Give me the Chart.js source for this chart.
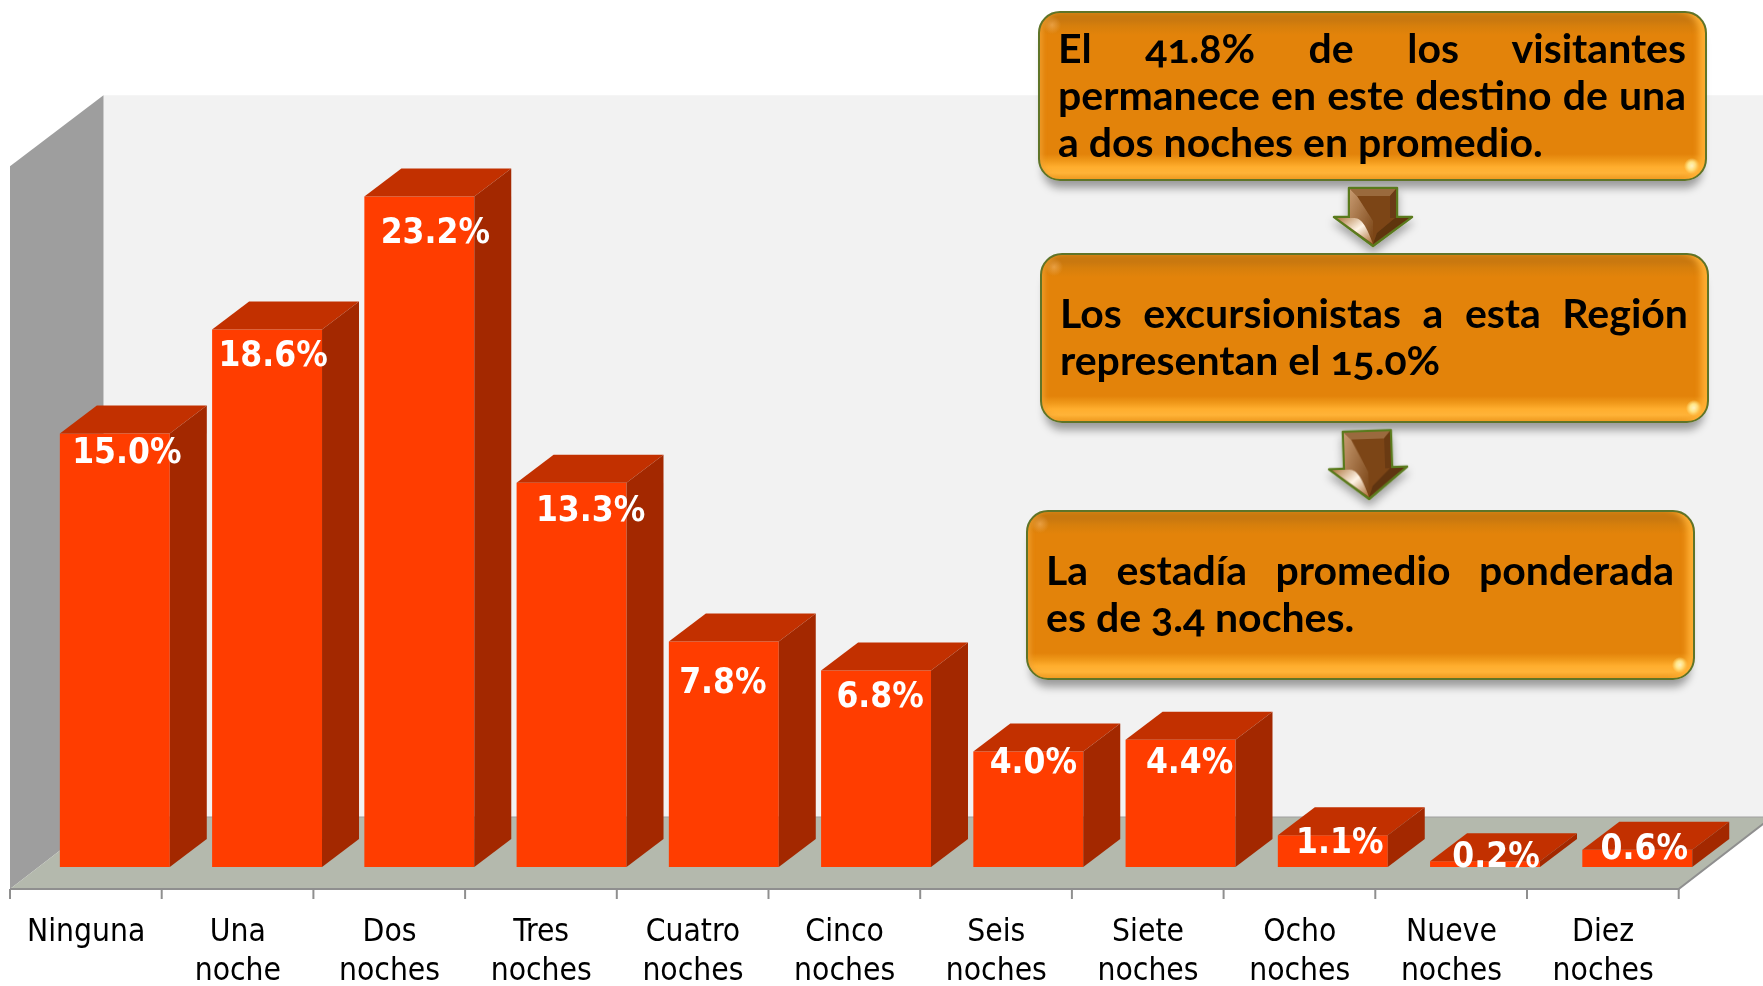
<!DOCTYPE html>
<html lang="es"><head><meta charset="utf-8">
<script src="https://cdn.jsdelivr.net/npm/chart.js@4"></script>
<style>
html,body{margin:0;padding:0;background:#fff;width:1763px;height:986px;overflow:hidden}
#wrap{position:relative;width:1763px;height:986px}
canvas{position:absolute;left:0;top:0}
.box{position:absolute;width:669px;height:170px;box-sizing:border-box;border:2.5px solid #5f7428;border-radius:22px;
 background:
  radial-gradient(circle 8px at calc(100% - 13px) calc(100% - 13px),#fff6c8 0,#ffe78a 50%,rgba(255,200,70,0) 100%),
  radial-gradient(circle 9px at 12px 12px,rgba(245,180,100,.6) 0,rgba(255,190,90,0) 100%),
  linear-gradient(180deg,#c9780f 0,#c9780f 7px,#d67f0c 13px,#e3830a 22px,#e3830a 141px,#f0991a 148px,#ffae2e 154px,#ffb338 160px,#ee9a20 100%);
 box-shadow:0 12px 9px -5px rgba(0,0,0,.36), inset -9px 0 6px -3px rgba(255,176,52,.95), inset 6px 0 4px -3px rgba(240,160,50,.7);
 font:700 41px/47px Lato,sans-serif;color:#000;font-feature-settings:"onum" 1;padding:0 19px 4px 18px;display:flex;flex-direction:column;justify-content:center}
.box span{display:block;text-align:left}
.box span.j{text-align:justify;text-align-last:justify}
svg.arr{position:absolute;overflow:visible}
</style></head><body>
<div id="wrap">
<canvas id="c" width="1763" height="986"></canvas>
<div class="box" style="left:1038px;top:11px"><span class="j">El 41.8% de los visitantes</span><span class="j">permanece en este destino de una</span><span>a dos noches en promedio.</span></div>
<svg class="arr" style="left:1333px;top:187px" width="80" height="60" viewBox="0 0 80 60"><defs>
<filter id="s" x="-30%" y="-30%" width="160%" height="170%"><feDropShadow dx="0" dy="6" stdDeviation="4" flood-color="#000" flood-opacity=".32"/></filter>
<linearGradient id="hl" x1="0" y1="0" x2="1" y2="1"><stop offset="0" stop-color="#b07a45"/><stop offset=".5" stop-color="#fff4e6"/><stop offset="1" stop-color="#a8682f"/></linearGradient>
<linearGradient id="lf" x1="0" y1="0" x2="1" y2="1"><stop offset="0" stop-color="#c79a70"/><stop offset="1" stop-color="#7b4516"/></linearGradient>
<g id="a1"><path d="M16 1H64V30H79L40 59L1 30H16Z" fill="#7b4516" stroke="#5a7a1e" stroke-width="2.5" stroke-linejoin="round"/>
<path d="M17 2H63L57 9H24Z" fill="#9a6a3e"/><path d="M17 2L24 9L40 34V52L24 32H17Z" fill="url(#lf)"/><path d="M63 2L57 9V31L63 31Z" fill="#6a3a12"/>
<path d="M4 31H20C28 31 32 36 40 57Z" fill="url(#hl)"/><path d="M76 31L40 57L44 46L62 31Z" fill="#5f3410"/></g>
</defs><use href="#a1" filter="url(#s)"/></svg>
<div class="box" style="left:1040px;top:253px"><span class="j">Los excursionistas a esta Región</span><span>representan el 15.0%</span></div>
<svg class="arr" style="left:1328px;top:430px;transform:rotate(-2deg)" width="80" height="70" viewBox="0 0 80 70">
<path d="M16 1H64V38H79L40 69L1 38H16Z" fill="#7b4516" stroke="#5a7a1e" stroke-width="2.5" stroke-linejoin="round" filter="url(#s)"/>
<path d="M17 2H63L57 9H24Z" fill="#9a6a3e"/><path d="M17 2L24 9L40 42V62L24 40H17Z" fill="url(#lf)"/><path d="M63 2L57 9V39L63 39Z" fill="#6a3a12"/>
<path d="M4 39H20C28 39 32 44 40 67Z" fill="url(#hl)"/><path d="M76 39L40 67L44 56L62 39Z" fill="#5f3410"/></svg>
<div class="box" style="left:1026px;top:510px"><span class="j">La estadía promedio ponderada</span><span>es de 3.4 noches.</span></div>
</div>
<script>
const categories = [['Ninguna'],['Una','noche'],['Dos','noches'],['Tres','noches'],['Cuatro','noches'],['Cinco','noches'],['Seis','noches'],['Siete','noches'],['Ocho','noches'],['Nueve','noches'],['Diez','noches']];
const values = [15.0,18.6,23.2,13.3,7.8,6.8,4.0,4.4,1.1,0.2,0.6];
const valueLabels = ['15.0%','18.6%','23.2%','13.3%','7.8%','6.8%','4.0%','4.4%','1.1%','0.2%','0.6%'];
const labelNudgeX = [12,6,16,19,-1,4,5,9,7,11,7];
const labelNudgeY = [20,27,37,29,42,27,13,24,9,-3,0];

const DEPTH_X = 37, DEPTH_Y = 28;      // bar depth
const AXIS_SHIFT_X = 28.7, AXIS_SHIFT_Y = 22; // front axis vs. bar plane
const AXIS_STEP = 151.7;               // front axis has a slightly smaller step than the bar plane
const FLOOR_BACK = 50;

function poly(ctx, pts, fill){ctx.beginPath();pts.forEach((p,i)=>i?ctx.lineTo(p[0],p[1]):ctx.moveTo(p[0],p[1]));ctx.closePath();ctx.fillStyle=fill;ctx.fill();}

const scene = {
  id:'scene',
  beforeDraw(chart){
    const x = chart.scales.x;
    const drift = x.getPixelForValue(1)-x.getPixelForValue(0)-AXIS_STEP;
    x.getLabelItems(chart.chartArea).forEach((it,i)=>{ it.options.translation[0] -= i*drift; });
  },
  beforeDatasetsDraw(chart){
    const {ctx,scales:{x,y}} = chart;
    const y0 = y.getPixelForValue(0);
    const step = x.getPixelForValue(1)-x.getPixelForValue(0);
    const fl = x.getPixelForValue(0)-step/2-AXIS_SHIFT_X, fr = fl+AXIS_STEP*categories.length;
    const fy = y0+AXIS_SHIFT_Y, by = y0-FLOOR_BACK;
    const bl = fl+93.5, br = fr+93.5;
    const wallTop = y.getPixelForValue(26.7), wallFrontTop = y.getPixelForValue(24.25);
    ctx.save();
    poly(ctx,[[bl,wallTop],[chart.width,wallTop],[chart.width,by],[bl,by]],'#f2f2f2');
    poly(ctx,[[fl,wallFrontTop],[bl,wallTop],[bl,by],[fl,fy]],'#9e9e9e');
    poly(ctx,[[fl,fy],[bl,by],[br,by],[fr,fy]],'#b4b9ad');
    ctx.strokeStyle='#8f8f8f';ctx.lineWidth=2;
    ctx.beginPath();ctx.moveTo(fl,fy);ctx.lineTo(fr,fy);ctx.lineTo(br,by);ctx.stroke();
    ctx.strokeStyle='#a0a0a0';ctx.lineWidth=1;ctx.beginPath();ctx.moveTo(bl,by);ctx.lineTo(br,by);ctx.stroke();
    ctx.strokeStyle='#8f8f8f';ctx.lineWidth=2;
    for(let i=0;i<=categories.length;i++){const t=fl+AXIS_STEP*i;ctx.beginPath();ctx.moveTo(t,fy);ctx.lineTo(t,fy+10);ctx.stroke();}
    ctx.restore();
  },
  afterDatasetsDraw(chart){
    const {ctx} = chart;
    const bars = chart.getDatasetMeta(0).data;
    ctx.save();
    bars.forEach(b=>{
      const l=b.x-b.width/2,r=b.x+b.width/2,t=b.y,base=b.base;
      poly(ctx,[[l,t],[l+DEPTH_X,t-DEPTH_Y],[r+DEPTH_X,t-DEPTH_Y],[r,t]],'#c23000');
      poly(ctx,[[r,t],[r+DEPTH_X,t-DEPTH_Y],[r+DEPTH_X,base-DEPTH_Y],[r,base]],'#a32800');
    });
    ctx.font='bold 35px "DejaVu Sans Condensed","DejaVu Sans"';ctx.fillStyle='#fff';ctx.textAlign='center';ctx.textBaseline='middle';
    bars.forEach((b,i)=>ctx.fillText(valueLabels[i],b.x+labelNudgeX[i],b.y+labelNudgeY[i]));
    ctx.restore();
  }
};

new Chart(document.getElementById('c'),{
  type:'bar',
  data:{labels:categories,datasets:[{data:values,backgroundColor:'#ff3d00',borderWidth:0,categoryPercentage:1,barPercentage:0.722}]},
  options:{
    responsive:false,animation:false,
    layout:{padding:{left:38.7,right:49.6,top:0,bottom:0}},
    plugins:{legend:{display:false},tooltip:{enabled:false},title:{display:false}},
    scales:{
      x:{grid:{display:false},border:{display:false},
         afterFit(s){s.height=119;},
         ticks:{color:'#000',font:{family:'"DejaVu Sans Condensed","DejaVu Sans"',size:31.5,lineHeight:1.25},labelOffset:-AXIS_SHIFT_X,padding:38,maxRotation:0,minRotation:0,autoSkip:false}},
      y:{display:false,min:0,max:30,grid:{display:false}}
    }
  },
  plugins:[scene]
});
</script></body></html>
